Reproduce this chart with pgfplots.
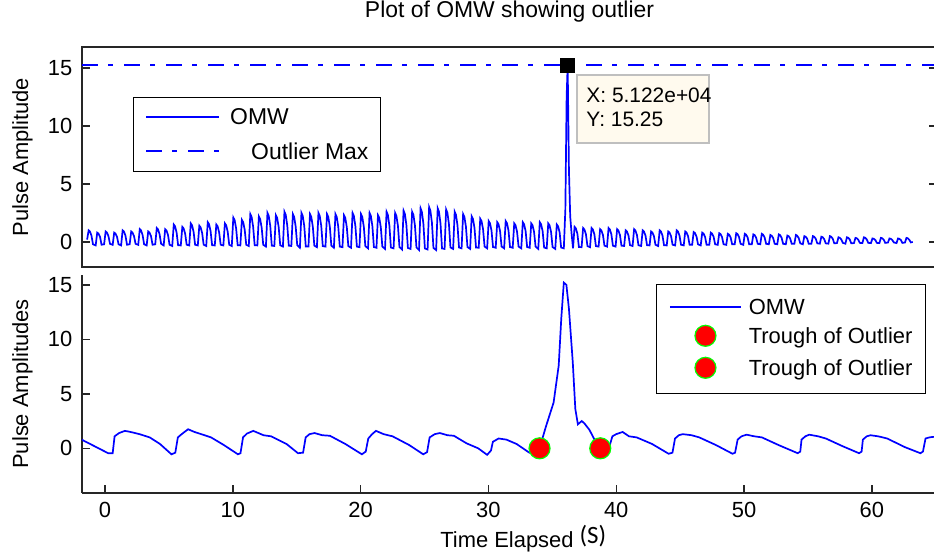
\documentclass[border=0pt]{standalone}
\usepackage{fontspec}
\setmainfont{Liberation Sans}
\newfontfamily\carlito{Carlito}
\usepackage{pgfplots}
\pgfplotsset{compat=1.18}
\definecolor{mblue}{RGB}{0,0,255}
\definecolor{mgreen}{RGB}{0,255,0}
\definecolor{tipbg}{RGB}{255,250,238}
\definecolor{axgray}{RGB}{38,38,38}

\pgfplotsset{
  mystyle/.style={
    scale only axis, width=427.5bp, xmin=-1.8, xmax=65.1,
    tick align=inside, major tick length=4bp,
    axis line style={-, line width=0.7bp, axgray},
    tick style={line width=0.7bp, axgray},
    /pgf/number format/assume math mode=true,
    tick label style={font=\fontsize{11}{13}\selectfont},
    xticklabel style={yshift=-1.3bp},
    yticklabel style={xshift=-1.3bp},
    label style={font=\fontsize{11}{13}\selectfont},
    ylabel style={at={(axis description cs:-0.0696,0.5)}, anchor=center},
    ytick={0,5,10,15},
    legend cell align=left,
  }
}

\begin{document}
\begin{tikzpicture}
\useasboundingbox (0,0) rectangle (467bp,277.5bp);

% ---------------- top axis ----------------
\begin{axis}[mystyle,
  at={(41bp,144bp)}, anchor=south west, height=110bp,
  ymin=-2.16, ymax=16.81, xtick=\empty,
  title={Plot of OMW showing outlier},
  title style={at={(axis description cs:0.5,1)}, anchor=base, yshift=8.75bp, font=\fontsize{11.5}{13}\selectfont},
  ylabel={Pulse Amplitude},
  legend style={at={(axis description cs:0.0597,0.7727)}, anchor=north west,
    draw=black, fill=white, font=\fontsize{11.5}{13}\selectfont,
    inner xsep=6bp, inner ysep=5.8bp, row sep=9bp,
    nodes={inner sep=0pt, text depth=0pt},
    /tikz/every odd column/.append style={column sep=5bp}},
  legend image code/.code={\draw[mark repeat=2,mark phase=2,#1] plot coordinates {(0bp,0bp) (18.25bp,0bp) (36.5bp,0bp)};},
]
\addplot[color=mblue, draw=mblue, line width=0.85bp, mark=none] coordinates {
(-1.40,0.2) (-1.28,1.0) (-1.18,0.9) (-1.06,0.55) (-0.94,-0.2)
(-0.73,-0.3) (-0.61,0.8) (-0.51,0.72) (-0.39,0.44) (-0.27,-0.24)
(-0.07,-0.2) (0.05,0.9) (0.15,0.81) (0.27,0.5) (0.39,-0.16)
(0.60,-0.25) (0.72,0.8) (0.82,0.72) (0.94,0.44) (1.06,-0.2)
(1.26,-0.3) (1.38,1.0) (1.48,0.9) (1.60,0.55) (1.72,-0.24)
(1.93,-0.2) (2.05,0.9) (2.15,0.81) (2.27,0.5) (2.39,-0.16)
(2.60,-0.25) (2.72,1.1) (2.82,0.99) (2.94,0.6) (3.06,-0.2)
(3.26,-0.3) (3.38,0.9) (3.48,0.81) (3.60,0.5) (3.72,-0.24)
(3.93,-0.2) (4.05,1.2) (4.15,1.08) (4.27,0.66) (4.39,-0.16)
(4.59,-0.3) (4.71,1.1) (4.81,0.99) (4.93,0.6) (5.05,-0.24)
(5.26,-0.35) (5.38,1.5) (5.48,1.35) (5.60,0.83) (5.72,-0.28)
(5.93,-0.3) (6.05,1.3) (6.15,1.17) (6.27,0.72) (6.39,-0.24)
(6.59,-0.3) (6.71,1.6) (6.81,1.44) (6.93,0.88) (7.05,-0.24)
(7.26,-0.3) (7.38,1.4) (7.48,1.26) (7.60,0.77) (7.72,-0.24)
(7.92,-0.35) (8.04,1.7) (8.14,1.53) (8.26,0.94) (8.38,-0.28)
(8.59,-0.3) (8.71,1.5) (8.81,1.35) (8.93,0.83) (9.05,-0.24)
(9.26,-0.3) (9.38,1.6) (9.48,1.44) (9.60,0.88) (9.72,-0.24)
(9.92,-0.35) (10.04,2.1) (10.14,1.89) (10.26,1.16) (10.38,-0.28)
(10.59,-0.3) (10.71,1.9) (10.81,1.71) (10.93,1.05) (11.05,-0.24)
(11.25,-0.35) (11.37,2.4) (11.47,2.16) (11.59,1.32) (11.71,-0.28)
(11.92,-0.3) (12.04,2.2) (12.14,1.98) (12.26,1.21) (12.38,-0.24)
(12.59,-0.4) (12.71,2.5) (12.81,2.25) (12.93,1.38) (13.05,-0.32)
(13.25,-0.35) (13.37,2.3) (13.47,2.07) (13.59,1.27) (13.71,-0.28)
(13.92,-0.4) (14.04,2.6) (14.14,2.34) (14.26,1.43) (14.38,-0.32)
(14.58,-0.35) (14.70,2.4) (14.80,2.16) (14.92,1.32) (15.04,-0.28)
(15.25,-0.5) (15.37,2.5) (15.47,2.25) (15.59,1.38) (15.71,-0.4)
(15.92,-0.4) (16.04,2.4) (16.14,2.16) (16.26,1.32) (16.38,-0.32)
(16.58,-0.45) (16.70,2.5) (16.80,2.25) (16.92,1.38) (17.04,-0.36)
(17.25,-0.4) (17.37,2.4) (17.47,2.16) (17.59,1.32) (17.71,-0.32)
(17.91,-0.5) (18.03,2.4) (18.13,2.16) (18.25,1.32) (18.37,-0.4)
(18.58,-0.45) (18.70,2.3) (18.80,2.07) (18.92,1.27) (19.04,-0.36)
(19.25,-0.5) (19.37,2.5) (19.47,2.25) (19.59,1.38) (19.71,-0.4)
(19.91,-0.45) (20.03,2.4) (20.13,2.16) (20.25,1.32) (20.37,-0.36)
(20.58,-0.55) (20.70,2.5) (20.80,2.25) (20.92,1.38) (21.04,-0.44)
(21.24,-0.5) (21.36,2.3) (21.46,2.07) (21.58,1.27) (21.70,-0.4)
(21.91,-0.6) (22.03,2.6) (22.13,2.34) (22.25,1.43) (22.37,-0.48)
(22.58,-0.55) (22.70,2.5) (22.80,2.25) (22.92,1.38) (23.04,-0.44)
(23.24,-0.65) (23.36,2.7) (23.46,2.43) (23.58,1.49) (23.70,-0.52)
(23.91,-0.6) (24.03,2.6) (24.13,2.34) (24.25,1.43) (24.37,-0.48)
(24.57,-0.7) (24.69,2.9) (24.79,2.61) (24.91,1.6) (25.03,-0.56)
(25.24,-0.65) (25.36,3.0) (25.46,2.7) (25.58,1.65) (25.70,-0.52)
(25.91,-0.7) (26.03,2.9) (26.13,2.61) (26.25,1.6) (26.37,-0.56)
(26.57,-0.6) (26.69,2.8) (26.79,2.52) (26.91,1.54) (27.03,-0.48)
(27.24,-0.6) (27.36,2.6) (27.46,2.34) (27.58,1.43) (27.70,-0.48)
(27.90,-0.55) (28.02,2.4) (28.12,2.16) (28.24,1.32) (28.36,-0.44)
(28.57,-0.6) (28.69,2.2) (28.79,1.98) (28.91,1.21) (29.03,-0.48)
(29.24,-0.5) (29.36,2.0) (29.46,1.8) (29.58,1.1) (29.70,-0.4)
(29.90,-0.55) (30.02,1.8) (30.12,1.62) (30.24,0.99) (30.36,-0.44)
(30.57,-0.5) (30.69,1.7) (30.79,1.53) (30.91,0.94) (31.03,-0.4)
(31.23,-0.55) (31.35,1.8) (31.45,1.62) (31.57,0.99) (31.69,-0.44)
(31.90,-0.5) (32.02,1.6) (32.12,1.44) (32.24,0.88) (32.36,-0.4)
(32.57,-0.55) (32.69,1.7) (32.79,1.53) (32.91,0.94) (33.03,-0.44)
(33.23,-0.5) (33.35,1.6) (33.45,1.44) (33.57,0.88) (33.69,-0.4)
(33.90,-0.6) (34.02,1.7) (34.12,1.53) (34.24,0.94) (34.36,-0.48)
(34.56,-0.55) (34.68,1.6) (34.78,1.44) (34.90,0.88) (35.02,-0.44)
(35.23,-0.6) (35.35,1.5) (35.45,1.35) (35.57,0.83) (35.69,-0.48)
(35.90,-0.55) (36.02,2.8) (36.12,12.5) (36.20,15.25) (36.30,6.2) (36.40,2.2) (36.50,0.8)
(36.62,-0.55) (36.74,1.3) (36.84,1.17) (36.96,0.72) (37.08,-0.44)
(37.29,-0.45) (37.41,1.2) (37.51,1.08) (37.63,0.66) (37.75,-0.36)
(37.95,-0.45) (38.07,1.2) (38.17,1.08) (38.29,0.66) (38.41,-0.36)
(38.62,-0.4) (38.74,1.1) (38.84,0.99) (38.96,0.6) (39.08,-0.32)
(39.28,-0.4) (39.40,1.2) (39.50,1.08) (39.62,0.66) (39.74,-0.32)
(39.95,-0.4) (40.07,1.1) (40.17,0.99) (40.29,0.6) (40.41,-0.32)
(40.62,-0.35) (40.74,1.0) (40.84,0.9) (40.96,0.55) (41.08,-0.28)
(41.28,-0.35) (41.40,1.1) (41.50,0.99) (41.62,0.6) (41.74,-0.28)
(41.95,-0.35) (42.07,1.0) (42.17,0.9) (42.29,0.55) (42.41,-0.28)
(42.61,-0.3) (42.73,0.9) (42.83,0.81) (42.95,0.5) (43.07,-0.24)
(43.28,-0.35) (43.40,1.0) (43.50,0.9) (43.62,0.55) (43.74,-0.28)
(43.95,-0.3) (44.07,0.9) (44.17,0.81) (44.29,0.5) (44.41,-0.24)
(44.61,-0.3) (44.73,1.0) (44.83,0.9) (44.95,0.55) (45.07,-0.24)
(45.28,-0.3) (45.40,0.9) (45.50,0.81) (45.62,0.5) (45.74,-0.24)
(45.94,-0.25) (46.06,0.85) (46.16,0.77) (46.28,0.47) (46.40,-0.2)
(46.61,-0.3) (46.73,0.8) (46.83,0.72) (46.95,0.44) (47.07,-0.24)
(47.28,-0.25) (47.40,0.8) (47.50,0.72) (47.62,0.44) (47.74,-0.2)
(47.94,-0.25) (48.06,0.75) (48.16,0.68) (48.28,0.41) (48.40,-0.2)
(48.61,-0.25) (48.73,0.7) (48.83,0.63) (48.95,0.39) (49.07,-0.2)
(49.27,-0.2) (49.39,0.75) (49.49,0.68) (49.61,0.41) (49.73,-0.16)
(49.94,-0.25) (50.06,0.7) (50.16,0.63) (50.28,0.39) (50.40,-0.2)
(50.61,-0.2) (50.73,0.65) (50.83,0.59) (50.95,0.36) (51.07,-0.16)
(51.27,-0.2) (51.39,0.7) (51.49,0.63) (51.61,0.39) (51.73,-0.16)
(51.94,-0.2) (52.06,0.6) (52.16,0.54) (52.28,0.33) (52.40,-0.16)
(52.60,-0.2) (52.72,0.65) (52.82,0.59) (52.94,0.36) (53.06,-0.16)
(53.27,-0.2) (53.39,0.55) (53.49,0.5) (53.61,0.3) (53.73,-0.16)
(53.94,-0.15) (54.06,0.6) (54.16,0.54) (54.28,0.33) (54.40,-0.12)
(54.60,-0.2) (54.72,0.5) (54.82,0.45) (54.94,0.28) (55.06,-0.16)
(55.27,-0.15) (55.39,0.5) (55.49,0.45) (55.61,0.28) (55.73,-0.12)
(55.93,-0.15) (56.05,0.45) (56.15,0.41) (56.27,0.25) (56.39,-0.12)
(56.60,-0.15) (56.72,0.5) (56.82,0.45) (56.94,0.28) (57.06,-0.12)
(57.27,-0.1) (57.39,0.4) (57.49,0.36) (57.61,0.22) (57.73,-0.08)
(57.93,-0.15) (58.05,0.4) (58.15,0.36) (58.27,0.22) (58.39,-0.12)
(58.60,-0.1) (58.72,0.35) (58.82,0.32) (58.94,0.19) (59.06,-0.08)
(59.26,-0.1) (59.38,0.4) (59.48,0.36) (59.60,0.22) (59.72,-0.08)
(59.93,-0.1) (60.05,0.3) (60.15,0.27) (60.27,0.17) (60.39,-0.08)
(60.59,-0.1) (60.71,0.35) (60.81,0.32) (60.93,0.19) (61.05,-0.08)
(61.26,-0.05) (61.38,0.3) (61.48,0.27) (61.60,0.17) (61.72,-0.04)
(61.93,-0.1) (62.05,0.3) (62.15,0.27) (62.27,0.17) (62.39,-0.08)
(62.59,-0.05) (62.71,0.35) (62.81,0.32) (62.93,0.19) (63.05,-0.04)
(63.20,0.0)
};
\addlegendentry{OMW}
\addplot[color=mblue, line width=0.9bp, mark=none, dash pattern=on 8bp off 5bp on 2.5bp off 5.5bp] coordinates {(-1.8,15.25) (65.1,15.25)};
\addlegendentry{\hspace{10.5bp}Outlier Max}
\addplot[only marks, mark=square*, mark size=3.5bp, black, forget plot] coordinates {(36.2,15.25)};
% data tip
\draw[draw=black!25, line width=0.8bp, fill=tipbg] (axis cs:36.95,14.40) rectangle (axis cs:47.27,8.53);
\node[anchor=base west, inner sep=0pt, font=\fontsize{10.5}{12}\selectfont] at (axis cs:37.64,12.0) {X: 5.122e+04};
\node[anchor=base west, inner sep=0pt, font=\fontsize{10.5}{12}\selectfont] at (axis cs:37.64,9.94) {Y: 15.25};
\end{axis}

% ---------------- bottom axis ----------------
\begin{axis}[mystyle,
  at={(41bp,31bp)}, anchor=south west, height=109bp,
  ymin=-4.1, ymax=15.9,
  axis x line*=bottom, axis y line*=left,
  xtick={0,10,20,30,40,50,60},
  ylabel={Pulse Amplitudes},
  xlabel={Time Elapsed\rlap{\hspace{3bp}\raisebox{2bp}{\carlito\fontsize{12.5}{14}\selectfont(S)}}},
  xlabel style={at={(axis description cs:0.5,0)}, anchor=base, yshift=-27bp, xshift=-1.25bp},
  legend style={at={(axis description cs:0.671,0.9587)}, anchor=north west,
    draw=black, fill=white, font=\fontsize{11}{13}\selectfont,
    inner xsep=6.5bp, inner ysep=7.3bp, row sep=5.5bp,
    nodes={inner sep=0pt, text depth=0pt},
    /tikz/every odd column/.append style={column sep=3.5bp}},
  legend image code/.code={\draw[mark repeat=2,mark phase=2,#1] plot coordinates {(0bp,0bp) (17.75bp,0bp) (35.5bp,0bp)};},
]
\addplot[color=mblue, draw=mblue, line width=0.85bp, mark=none] coordinates {
(-2.0,0.9) (0.25,-0.45) (0.6,-0.45) (0.75,1.1) (1.1,1.4) (1.56,1.6) (2.0,1.5) (2.7,1.3) (3.5,1.0) (4.3,0.4) (5.2,-0.55)
(5.5,-0.4) (5.7,1.0) (6.0,1.3) (6.5,1.75) (7.0,1.5) (7.4,1.35) (8.3,1.0) (9.3,0.3) (10.4,-0.55)
(10.6,-0.45) (10.8,1.0) (11.1,1.35) (11.6,1.6) (12.4,1.2) (13.0,1.1) (14.2,0.4) (15.1,-0.45)
(15.5,-0.4) (15.7,1.0) (16.0,1.3) (16.4,1.4) (17.0,1.2) (17.6,1.15) (18.8,0.4) (20.1,-0.55)
(20.4,-0.3) (20.6,0.9) (20.9,1.3) (21.2,1.6) (21.8,1.3) (22.5,1.1) (23.8,0.3) (24.9,-0.55)
(25.2,-0.35) (25.4,1.0) (25.8,1.3) (26.2,1.4) (26.8,1.2) (27.3,1.15) (28.3,0.45) (29.2,0.0) (29.9,-0.6)
(30.2,-0.2) (30.35,0.6) (30.8,0.9) (31.4,0.8) (32.2,0.4) (33.2,-0.4) (33.6,-0.4)
(34.0,0.0) (34.5,2.0) (35.1,4.2) (35.5,7.6) (35.7,11.9) (35.9,15.2) (36.1,15.0) (36.3,12.8) (36.6,7.9) (36.8,3.6)
(37.0,2.2) (37.3,2.5) (37.5,2.3) (37.9,1.7) (38.3,0.8) (38.75,0.0) (39.3,0.1)
(39.5,0.3) (39.7,1.1) (40.0,1.3) (40.5,1.5) (41.0,1.1) (41.6,1.0) (42.8,0.4) (44.1,-0.5)
(44.4,-0.4) (44.6,0.9) (44.9,1.2) (45.2,1.3) (45.9,1.2) (46.5,1.0) (47.8,0.3) (49.1,-0.5)
(49.3,-0.4) (49.5,0.8) (49.8,1.1) (50.2,1.25) (50.8,1.1) (51.4,1.0) (52.7,0.3) (54.2,-0.45)
(54.4,-0.3) (54.5,0.8) (54.8,1.1) (55.1,1.25) (55.8,1.1) (56.4,0.9) (57.7,0.2) (59.0,-0.45)
(59.2,-0.3) (59.3,0.8) (59.6,1.1) (59.9,1.2) (60.5,1.1) (61.2,0.9) (62.6,0.1) (63.8,-0.45)
(64.0,-0.3) (64.2,0.9) (64.5,1.0) (64.8,1.05) (65.3,1.0)
};
\addlegendentry{OMW}
\addplot[only marks, mark=*, mark size=5.25bp, mark options={fill=red, draw=mgreen, line width=0.6bp}] coordinates {(34.0,0.0)};
\addlegendentry{Trough of Outlier}
\addplot[only marks, mark=*, mark size=5.25bp, mark options={fill=red, draw=mgreen, line width=0.6bp}] coordinates {(38.75,0.0)};
\addlegendentry{Trough of Outlier}
\end{axis}
\end{tikzpicture}
\end{document}
